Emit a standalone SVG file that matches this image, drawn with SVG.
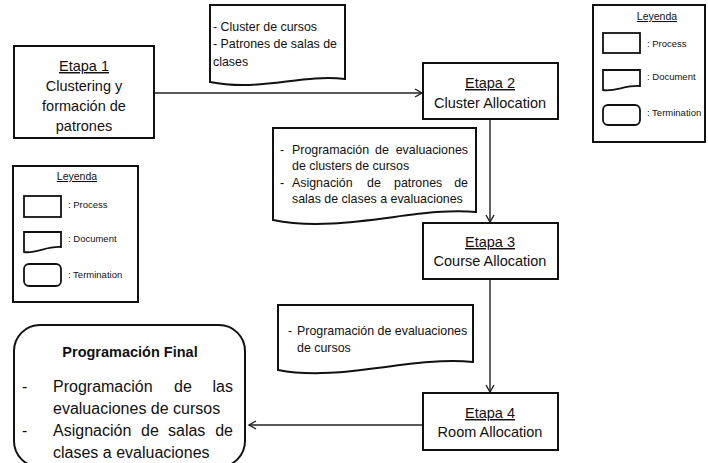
<svg xmlns="http://www.w3.org/2000/svg" width="708" height="463" viewBox="0 0 708 463">
<defs>
<style>
.box{fill:#fff;stroke:#111;stroke-width:2}
.icon{fill:#fff;stroke:#111;stroke-width:1.8}
.conn{fill:none;stroke:#222;stroke-width:1.4}
text{font-family:"Liberation Sans",Arial,sans-serif;fill:#111}
.t{font-size:14.5px;text-anchor:middle}
.u{text-decoration:underline}
.d{font-size:12.4px}
.f{font-size:16px}
.fb{font-size:14.5px;font-weight:bold;text-anchor:middle}
.lg{font-size:10.5px;text-anchor:middle;text-decoration:underline}
.ll{font-size:9.5px}
</style>
<marker id="arr" markerUnits="userSpaceOnUse" markerWidth="12" markerHeight="12" refX="8" refY="5" orient="auto">
<path d="M1,1 L8,5 L1,9" fill="none" stroke="#222" stroke-width="1.4"/>
</marker>
</defs>
<rect width="708" height="463" fill="#fff"/>

<g id="connectors">
<path class="conn" d="M154,93 H422" marker-end="url(#arr)"/>
<path class="conn" d="M490,119 V222" marker-end="url(#arr)"/>
<path class="conn" d="M490,279 V392" marker-end="url(#arr)"/>
<path class="conn" d="M423,425 H249" marker-end="url(#arr)"/>
</g>

<g id="etapa1">
<rect class="box" x="14" y="46" width="140" height="92"/>
<text class="t u" x="84" y="71">Etapa 1</text>
<text class="t" x="84" y="91">Clustering y</text>
<text class="t" x="84" y="111">formación de</text>
<text class="t" x="84" y="131">patrones</text>
</g>

<g id="doc1">
<path class="box" d="M210,5 H345 V79 C300,74 260,92 210,82 Z"/>
<text class="d" x="213" y="31">- Cluster de cursos</text>
<text class="d" x="213" y="48">- Patrones de salas de</text>
<text class="d" x="213" y="66">clases</text>
</g>

<g id="etapa2">
<rect class="box" x="423" y="63" width="135" height="56"/>
<text class="t u" x="490" y="88">Etapa 2</text>
<text class="t" x="490" y="108">Cluster Allocation</text>
</g>

<g id="doc2">
<path class="box" d="M273,128 H476 V212 C420,206 340,234 273,220 Z"/>
<text class="d" x="280" y="154">-</text>
<text class="d" x="292" y="154">Programación</text>
<text class="d" x="375" y="154">de</text>
<text class="d" x="468" y="154" text-anchor="end">evaluaciones</text>
<text class="d" x="292" y="170">de clusters de cursos</text>
<text class="d" x="280" y="187">-</text>
<text class="d" x="292" y="187">Asignación</text>
<text class="d" x="367" y="187">de</text>
<text class="d" x="394" y="187">patrones</text>
<text class="d" x="468" y="187" text-anchor="end">de</text>
<text class="d" x="292" y="203">salas de clases a evaluaciones</text>
</g>

<g id="etapa3">
<rect class="box" x="423" y="223" width="135" height="56"/>
<text class="t u" x="490" y="247">Etapa 3</text>
<text class="t" x="490" y="266">Course Allocation</text>
</g>

<g id="doc3">
<path class="box" d="M278,305 H473 V362 C410,356 340,382 278,370 Z"/>
<text class="d" x="288" y="335">-</text>
<text class="d" x="297" y="335">Programación de evaluaciones</text>
<text class="d" x="297" y="352">de cursos</text>
</g>

<g id="etapa4">
<rect class="box" x="423" y="393" width="135" height="57"/>
<text class="t u" x="490" y="418">Etapa 4</text>
<text class="t" x="490" y="437">Room Allocation</text>
</g>

<g id="final">
<rect class="box" x="14" y="325" width="231" height="142" rx="26" ry="26"/>
<text class="fb" x="130" y="357">Programación Final</text>
<text class="f" x="22" y="392">-</text>
<text class="f" x="53" y="392">Programación</text>
<text class="f" x="174" y="392">de</text>
<text class="f" x="233" y="392" text-anchor="end">las</text>
<text class="f" x="53" y="414">evaluaciones de cursos</text>
<text class="f" x="22" y="436">-</text>
<text class="f" x="53" y="436">Asignación</text>
<text class="f" x="141" y="436">de</text>
<text class="f" x="168" y="436">salas</text>
<text class="f" x="233" y="436" text-anchor="end">de</text>
<text class="f" x="53" y="458">clases a evaluaciones</text>
</g>

<g id="leyenda1">
<rect class="box" x="593" y="5" width="112" height="137"/>
<text class="lg" x="657" y="20">Leyenda</text>
<rect class="icon" x="603" y="33" width="37" height="20"/>
<text class="ll" x="647" y="47">: Process</text>
<path class="icon" d="M603,70 H640 V86 C625,85 615,92 603,90 Z"/>
<text class="ll" x="647" y="80">: Document</text>
<rect class="icon" x="603" y="105" width="37" height="20" rx="5" ry="5"/>
<text class="ll" x="647" y="116">: Termination</text>
</g>

<g id="leyenda2">
<rect class="box" x="13" y="166" width="125" height="136"/>
<text class="lg" x="77" y="180">Leyenda</text>
<rect class="icon" x="24" y="196" width="37" height="21"/>
<text class="ll" x="68" y="208">: Process</text>
<path class="icon" d="M24,232 H61 V247 C46,246 36,254 24,252 Z"/>
<text class="ll" x="68" y="242">: Document</text>
<rect class="icon" x="24" y="264" width="37" height="22" rx="5" ry="5"/>
<text class="ll" x="68" y="278">: Termination</text>
</g>
</svg>
